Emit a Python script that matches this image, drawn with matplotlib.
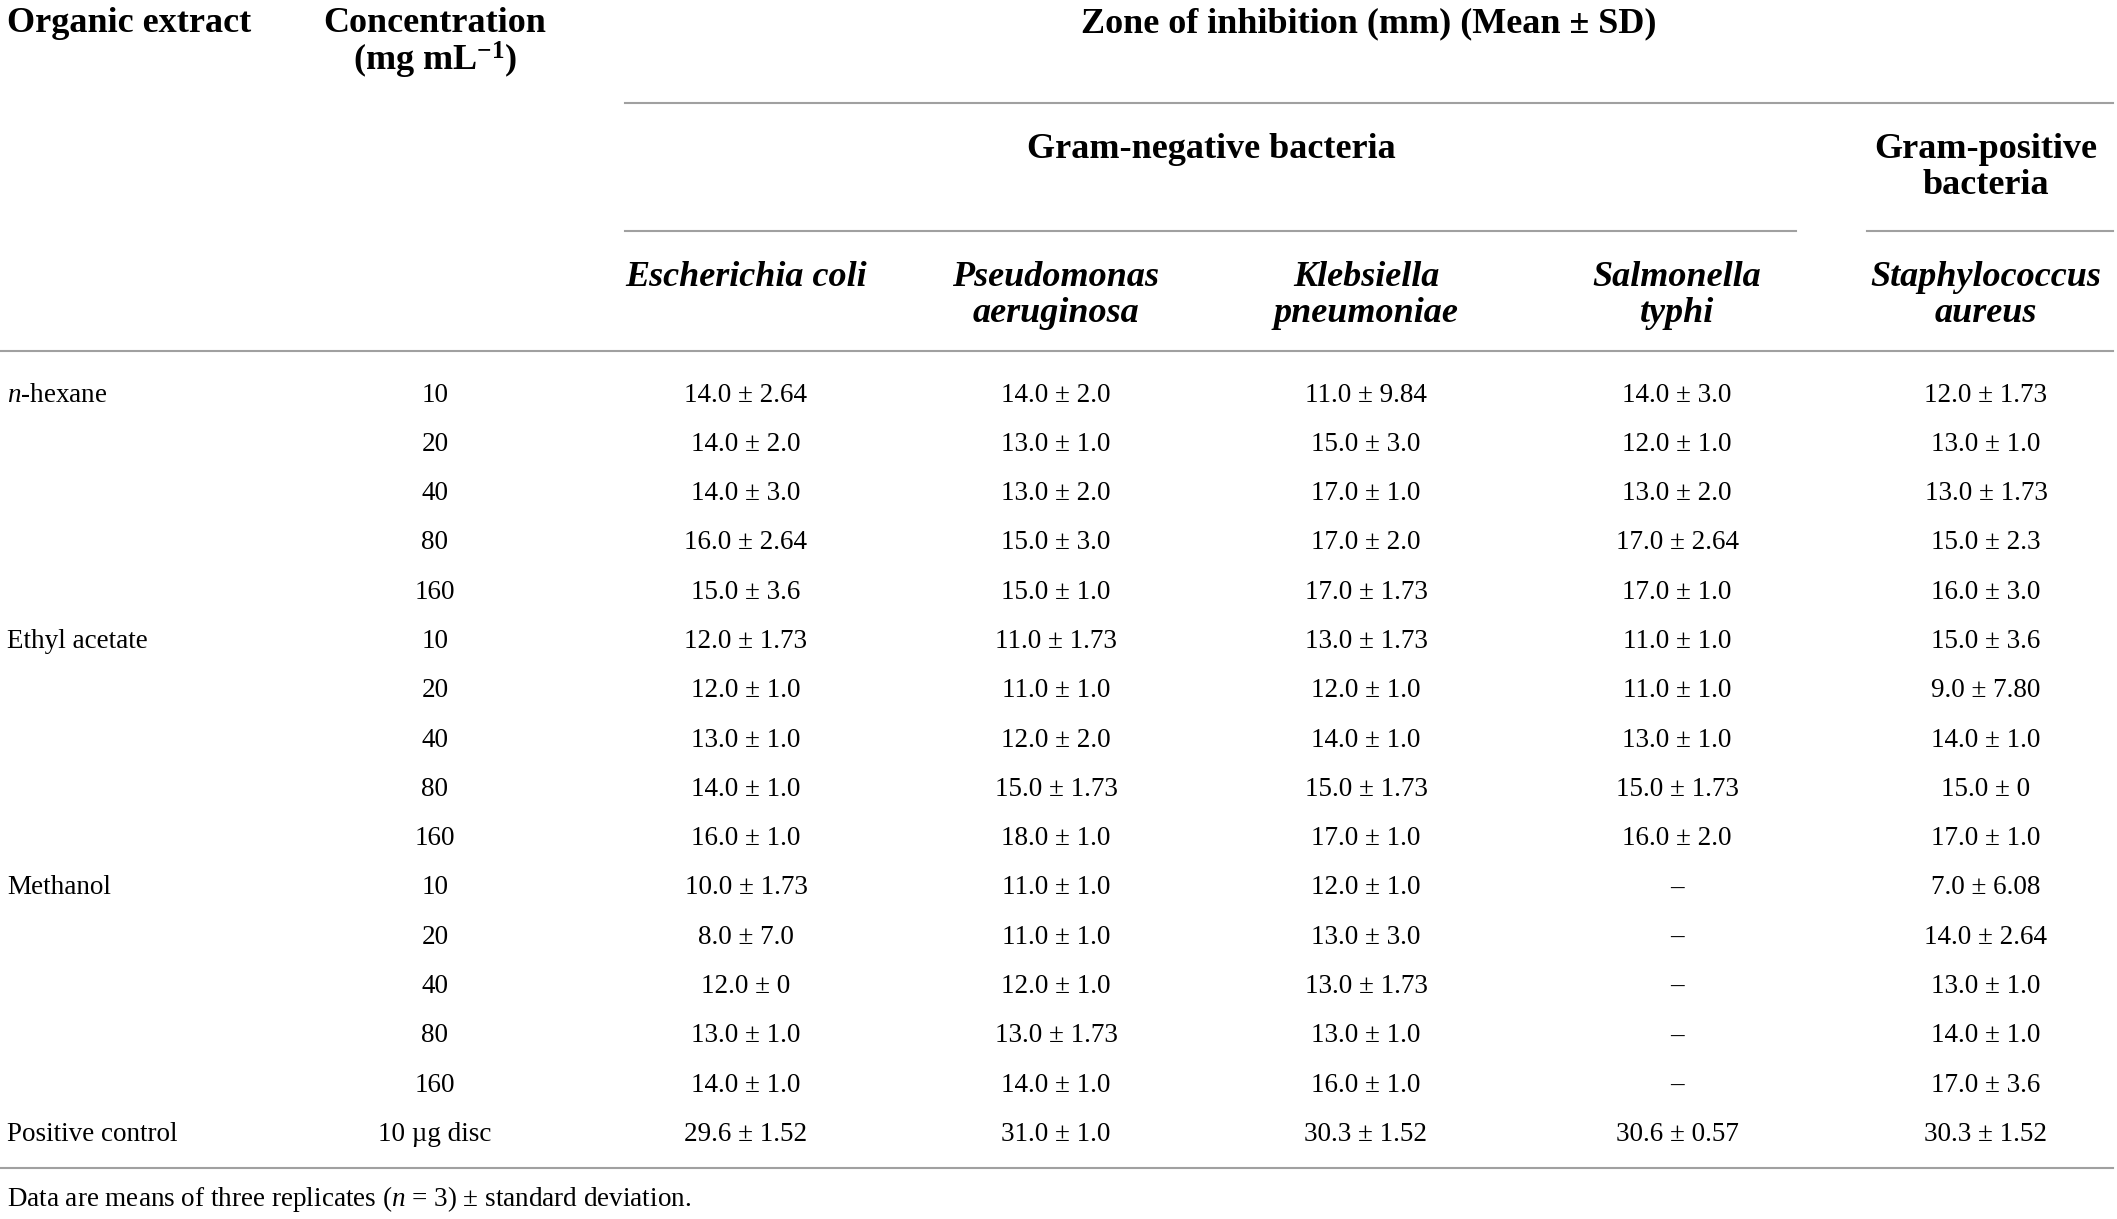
import matplotlib.pyplot as plt

plt.rcParams['font.family'] = 'Liberation Serif'
plt.rcParams['mathtext.fontset'] = 'custom'
plt.rcParams['mathtext.rm'] = 'Liberation Serif'
plt.rcParams['mathtext.it'] = 'Liberation Serif:italic'
plt.rcParams['mathtext.bf'] = 'Liberation Serif:bold'

# table data
extracts = ['$n$-hexane', 'Ethyl acetate', 'Methanol', 'Positive control']
concentrations = ['10', '20', '40', '80', '160']
control_dose = '10 \u00b5g disc'

species = [['Escherichia coli'], ['Pseudomonas', 'aeruginosa'], ['Klebsiella', 'pneumoniae'],
           ['Salmonella', 'typhi'], ['Staphylococcus', 'aureus']]

ecoli_mean = [14.0, 14.0, 14.0, 16.0, 15.0, 12.0, 12.0, 13.0, 14.0, 16.0,
              10.0, 8.0, 12.0, 13.0, 14.0, 29.6]
ecoli_sd = ['2.64', '2.0', '3.0', '2.64', '3.6', '1.73', '1.0', '1.0', '1.0', '1.0',
            '1.73', '7.0', '0', '1.0', '1.0', '1.52']

pseudo_mean = [14.0, 13.0, 13.0, 15.0, 15.0, 11.0, 11.0, 12.0, 15.0, 18.0,
               11.0, 11.0, 12.0, 13.0, 14.0, 31.0]
pseudo_sd = ['2.0', '1.0', '2.0', '3.0', '1.0', '1.73', '1.0', '2.0', '1.73', '1.0',
             '1.0', '1.0', '1.0', '1.73', '1.0', '1.0']

kleb_mean = [11.0, 15.0, 17.0, 17.0, 17.0, 13.0, 12.0, 14.0, 15.0, 17.0,
             12.0, 13.0, 13.0, 13.0, 16.0, 30.3]
kleb_sd = ['9.84', '3.0', '1.0', '2.0', '1.73', '1.73', '1.0', '1.0', '1.73', '1.0',
           '1.0', '3.0', '1.73', '1.0', '1.0', '1.52']

salm_mean = [14.0, 12.0, 13.0, 17.0, 17.0, 11.0, 11.0, 13.0, 15.0, 16.0,
             None, None, None, None, None, 30.6]
salm_sd = ['3.0', '1.0', '2.0', '2.64', '1.0', '1.0', '1.0', '1.0', '1.73', '2.0',
           None, None, None, None, None, '0.57']

staph_mean = [12.0, 13.0, 13.0, 15.0, 16.0, 15.0, 9.0, 14.0, 15.0, 17.0,
              7.0, 14.0, 13.0, 14.0, 17.0, 30.3]
staph_sd = ['1.73', '1.0', '1.73', '2.3', '3.0', '3.6', '7.80', '1.0', '0', '1.0',
            '6.08', '2.64', '1.0', '1.0', '3.6', '1.52']


def cell(m, s):
    if m is None:
        return '\u2013'
    return '%.1f \u00b1 %s' % (m, s)


def main():
    W, H = 2117, 1219
    fig = plt.figure(figsize=(W / 100, H / 100), dpi=100)
    ax = fig.add_axes([0, 0, 1, 1])
    ax.set_xlim(0, W)
    ax.set_ylim(H, 0)
    ax.axis('off')

    hs = 26      # header size
    bs = 19.5    # body size
    lc = '#a0a0a0'
    col_x = [746, 1056, 1366, 1677, 1986]
    hb = dict(fontsize=hs, fontweight='bold', va='center')

    # headers
    ax.text(7, 24, 'Organic extract', **hb)
    ax.text(435, 24, 'Concentration', ha='center', **hb)
    ax.text(435, 60, '(mg mL$^{\\mathbf{-1}}$)', ha='center', **hb)
    ax.text(1369, 24, 'Zone of inhibition (mm) (Mean \u00b1 SD)', ha='center', **hb)
    ax.plot([625, 2113], [103, 103], color=lc, lw=1.5)
    ax.text(1211, 150, 'Gram-negative bacteria', ha='center', **hb)
    ax.text(1986, 150, 'Gram-positive', ha='center', **hb)
    ax.text(1986, 186, 'bacteria', ha='center', **hb)
    ax.plot([625, 1796], [231, 231], color=lc, lw=1.5)
    ax.plot([1867, 2113], [231, 231], color=lc, lw=1.5)
    for x, lines in zip(col_x, species):
        for k, name in enumerate(lines):
            ax.text(x, 277 + k * 36, name, style='italic', ha='center', **hb)
    ax.plot([0, 2113], [351, 351], color=lc, lw=1.5)

    # body rows
    columns = [(ecoli_mean, ecoli_sd), (pseudo_mean, pseudo_sd), (kleb_mean, kleb_sd),
               (salm_mean, salm_sd), (staph_mean, staph_sd)]
    y0, dy = 395, 49.3
    for i in range(16):
        y = y0 + i * dy
        if i % 5 == 0:
            ax.text(7, y, extracts[i // 5], fontsize=bs, va='center')
        conc = control_dose if i == 15 else concentrations[i % 5]
        ax.text(435, y, conc, fontsize=bs, va='center', ha='center')
        for x, (means, sds) in zip(col_x, columns):
            ax.text(x, y, cell(means[i], sds[i]), fontsize=bs, va='center', ha='center')

    ax.plot([0, 2113], [1168, 1168], color=lc, lw=1.5)
    ax.text(7, 1199, 'Data are means of three replicates ($n$ = 3) \u00b1 standard deviation.',
            fontsize=bs, va='center')

    fig.savefig('out.png', dpi=100)


if __name__ == '__main__':
    main()
